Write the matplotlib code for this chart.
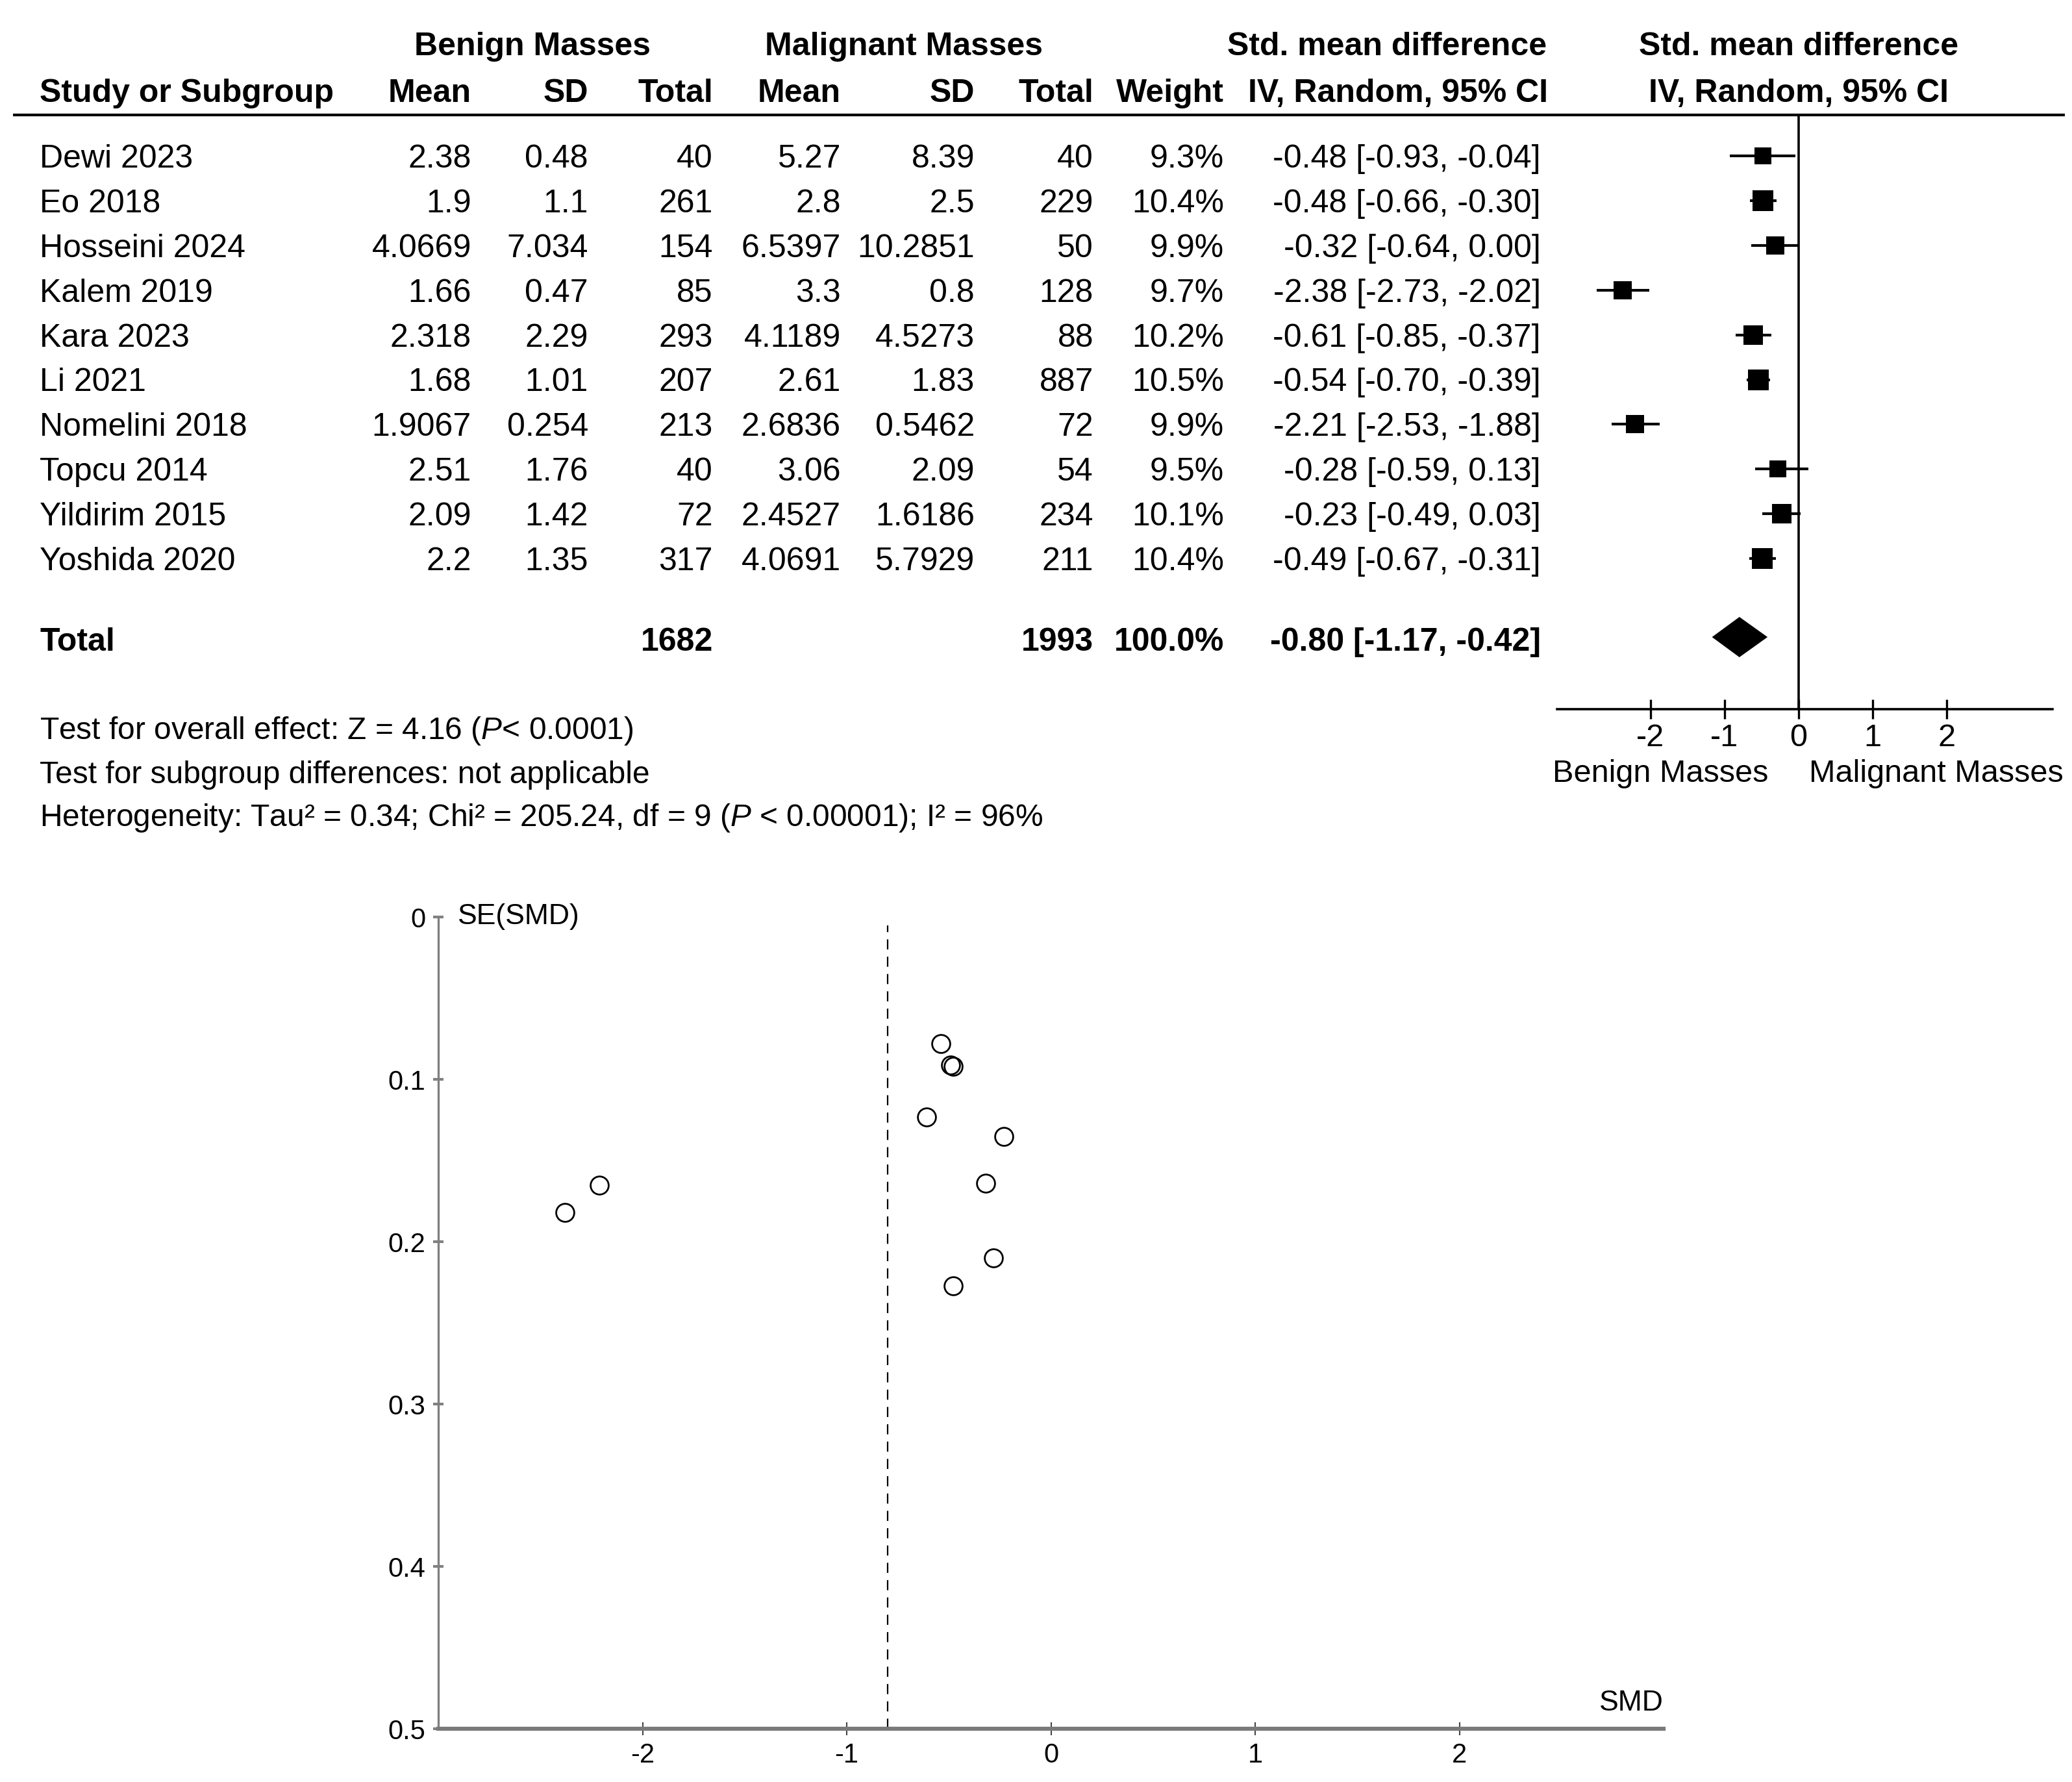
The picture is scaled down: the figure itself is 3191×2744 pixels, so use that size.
import matplotlib
matplotlib.use("Agg")
import matplotlib.pyplot as plt

plt.rcParams['font.family'] = ['Liberation Sans', 'DejaVu Sans']
plt.rcParams['axes.unicode_minus'] = False
plt.rcParams['mathtext.fontset'] = 'custom'
plt.rcParams['mathtext.rm'] = 'Liberation Sans'
plt.rcParams['mathtext.it'] = 'Liberation Sans:italic'

# data from the forest plot table
studies = ["Dewi 2023", "Eo 2018", "Hosseini 2024", "Kalem 2019", "Kara 2023",
           "Li 2021", "Nomelini 2018", "Topcu 2014", "Yildirim 2015", "Yoshida 2020"]
benign_mean = ["2.38", "1.9", "4.0669", "1.66", "2.318", "1.68", "1.9067", "2.51", "2.09", "2.2"]
benign_sd = ["0.48", "1.1", "7.034", "0.47", "2.29", "1.01", "0.254", "1.76", "1.42", "1.35"]
benign_n = [40, 261, 154, 85, 293, 207, 213, 40, 72, 317]
malig_mean = ["5.27", "2.8", "6.5397", "3.3", "4.1189", "2.61", "2.6836", "3.06", "2.4527", "4.0691"]
malig_sd = ["8.39", "2.5", "10.2851", "0.8", "4.5273", "1.83", "0.5462", "2.09", "1.6186", "5.7929"]
malig_n = [40, 229, 50, 128, 88, 887, 72, 54, 234, 211]
weight = [9.3, 10.4, 9.9, 9.7, 10.2, 10.5, 9.9, 9.5, 10.1, 10.4]
smd = [-0.48, -0.48, -0.32, -2.38, -0.61, -0.54, -2.21, -0.28, -0.23, -0.49]
ci_lo = [-0.93, -0.66, -0.64, -2.73, -0.85, -0.70, -2.53, -0.59, -0.49, -0.67]
ci_hi = [-0.04, -0.30, 0.00, -2.02, -0.37, -0.39, -1.88, 0.13, 0.03, -0.31]

total_benign = 1682
total_malig = 1993
total_weight = 100.0
total_smd = -0.80
total_lo = -1.17
total_hi = -0.42

# funnel plot: standard errors
funnel_se = [0.227, 0.092, 0.164, 0.182, 0.123, 0.078, 0.165, 0.210, 0.135, 0.091]

forest_ticks = [-2, -1, 0, 1, 2]
funnel_xticks = [-2, -1, 0, 1, 2]
funnel_yticks = [0, 0.1, 0.2, 0.3, 0.4, 0.5]

W, H = 3191, 2744
fig = plt.figure(figsize=(W / 100, H / 100), dpi=100)


def px_axes(left, top, right, bottom):
    return fig.add_axes([left / W, 1 - bottom / H, (right - left) / W, (bottom - top) / H])


# one axes in pixel units for all the table text
ax_tab = fig.add_axes([0, 0, 1, 1])
ax_tab.set_xlim(0, W)
ax_tab.set_ylim(H, 0)
ax_tab.axis('off')

FS = 36
row0 = 240
step = 68.9
total_y = 981
cap = 18  # half cap height in px, to put baselines


def put(x, y, s, ha='right', bold=False, size=FS):
    ax_tab.text(x, y + cap * size / FS, s, ha=ha, va='baseline', fontsize=size,
                fontweight='bold' if bold else 'normal')


# column right edges
c_study = 61
c_bmean, c_bsd, c_bn = 726, 906, 1098
c_mmean, c_msd, c_mn = 1295, 1501, 1684
c_w, c_ci = 1885, 2373
c_forest = 2770

# header
put(820, 67, "Benign Masses", ha='center', bold=True)
put(1392, 67, "Malignant Masses", ha='center', bold=True)
put(2382, 67, "Std. mean difference", bold=True)
put(c_forest, 67, "Std. mean difference", ha='center', bold=True)
put(c_study, 139, "Study or Subgroup", ha='left', bold=True)
for x, s in [(c_bmean, "Mean"), (c_bsd, "SD"), (c_bn, "Total"), (c_mmean, "Mean"),
             (c_msd, "SD"), (c_mn, "Total"), (c_w, "Weight"), (2384, "IV, Random, 95% CI")]:
    put(x, 139, s, bold=True)
put(c_forest, 139, "IV, Random, 95% CI", ha='center', bold=True)
ax_tab.plot([20, 3180], [177, 177], color='k', lw=3, solid_capstyle='butt')

rows_y = [row0 + step * i for i in range(len(studies))]
for i, y in enumerate(rows_y):
    put(c_study, y, studies[i], ha='left')
    put(c_bmean, y, benign_mean[i])
    put(c_bsd, y, benign_sd[i])
    put(c_bn, y, str(benign_n[i]))
    put(c_mmean, y, malig_mean[i])
    put(c_msd, y, malig_sd[i])
    put(c_mn, y, str(malig_n[i]))
    put(c_w, y, f"{weight[i]}%")
    put(c_ci, y, f"{smd[i]:.2f} [{ci_lo[i]:.2f}, {ci_hi[i]:.2f}]")

put(c_study, 984, "Total", ha='left', bold=True)
put(c_bn, 984, str(total_benign), bold=True)
put(c_mn, 984, str(total_malig), bold=True)
put(c_w, 984, f"{total_weight:.1f}%", bold=True)
put(c_ci, 984, f"{total_smd:.2f} [{total_lo:.2f}, {total_hi:.2f}]", bold=True)

put(c_study, 1121, r"Test for overall effect: Z = 4.16 ($\mathit{P}$< 0.0001)", ha='left', size=34.5)
put(c_study, 1189, "Test for subgroup differences: not applicable", ha='left', size=34.5)
put(c_study, 1255, r"Heterogeneity: Tau² = 0.34; Chi² = 205.24, df = 9 ($\mathit{P}$ < 0.00001); I² = 96%",
    ha='left', size=34.5)

put(2391, 1186, "Benign Masses", ha='left', size=35)
put(3178, 1186, "Malignant Masses", ha='right', size=35)

# forest plot
axf = px_axes(2398, 177, 3161, 1092)
axf.set_xlim(-3.263, 3.430)
axf.set_ylim(1092, 177)
for s in ['top', 'left', 'right']:
    axf.spines[s].set_visible(False)
axf.spines['bottom'].set_linewidth(2.6)
axf.axvline(0, color='k', lw=2.6)
axf.hlines(rows_y, ci_lo, ci_hi, color='k', lw=3)
for i, y in enumerate(rows_y):
    axf.plot(smd[i], y, marker='s', color='k', ms=23 * (weight[i] / 10.5) ** 2, mew=0)
dh = 31
axf.fill([total_lo, total_smd, total_hi, total_smd], [total_y, total_y - dh, total_y, total_y + dh],
         color='k', lw=0)
axf.set_xticks(forest_ticks)
axf.set_xticklabels([str(t) for t in forest_ticks])
axf.set_yticks([])
axf.tick_params(axis='x', direction='inout', length=22, width=2.4, labelsize=35, pad=5)
axf.patch.set_alpha(0)

# funnel plot
axp = px_axes(675, 1412, 2562, 2662)
axp.set_xlim(-3, 3)
axp.set_ylim(0.5, 0)
axp.spines['top'].set_visible(False)
axp.spines['right'].set_visible(False)
axp.spines['left'].set_color('#808080')
axp.spines['left'].set_linewidth(2.4)
axp.spines['bottom'].set_color('#7a7a7a')
axp.spines['bottom'].set_linewidth(4.5)
axp.axvline(total_smd, ymin=0, ymax=0.99, color='k', lw=1.6, linestyle=(0, (7, 5)))
axp.plot(smd, funnel_se, 'o', ms=20, mfc='none', mec='k', mew=2, clip_on=False)
axp.set_xticks(funnel_xticks)
axp.set_xticklabels([str(t) for t in funnel_xticks])
axp.set_yticks(funnel_yticks)
axp.set_yticklabels([str(t) for t in funnel_yticks])
axp.tick_params(axis='x', direction='inout', length=14, width=1.5, color='#444444',
                labelsize=30, pad=8)
axp.tick_params(axis='y', direction='inout', length=12, width=3, color='#808080',
                labelsize=30, pad=8)
axp.text(0.016, 0, "SE(SMD)", ha='left', va='center', fontsize=32,
         transform=axp.get_yaxis_transform())
axp.text(3, 0.484, "SMD", ha='right', va='center', fontsize=32)

fig.savefig("out.png", dpi=100, facecolor='white')
